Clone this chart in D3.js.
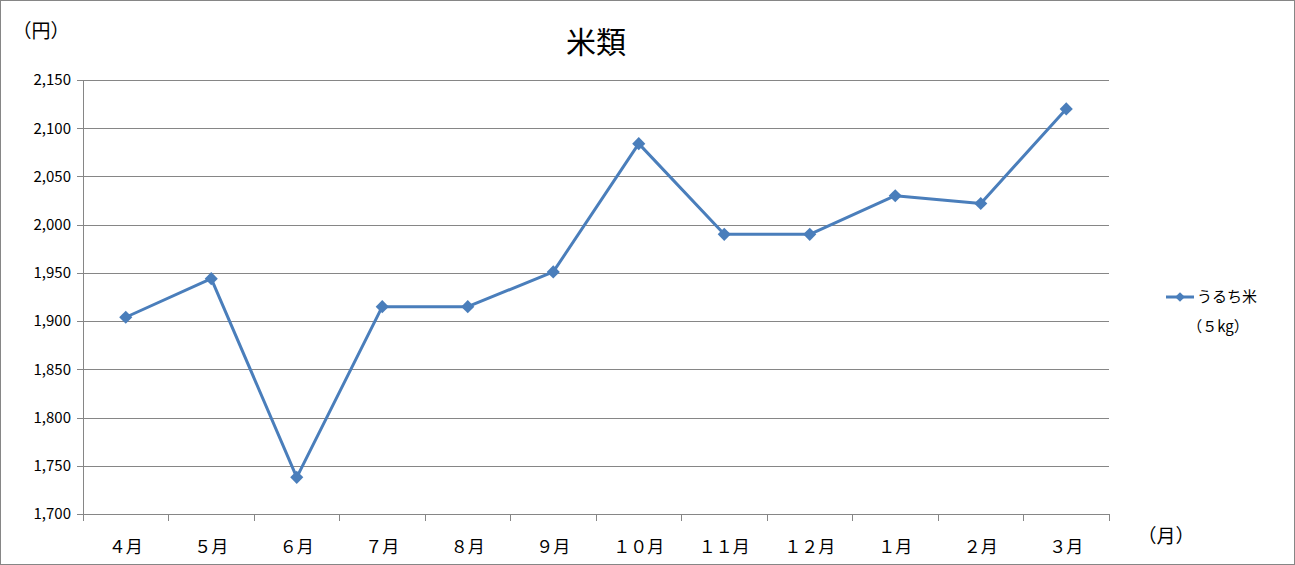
<!DOCTYPE html>
<html>
<head>
<meta charset="utf-8">
<script src="https://cdn.jsdelivr.net/npm/d3@7"></script>
<style>
  html, body { margin: 0; padding: 0; background: #fff; }
  svg { display: block; font-family: "Noto Sans CJK JP", "Noto Sans", sans-serif; }
</style>
</head>
<body>
<svg width="1295" height="565"></svg>
<script>
// month labels as printed on the chart (full-width digits)
let months = ["４月", "５月", "６月", "７月", "８月", "９月", "１０月", "１１月", "１２月", "１月", "２月", "３月"];
// うるち米 (5kg) price, yen
let prices = [1904, 1944, 1738, 1915, 1915, 1951, 2084, 1990, 1990, 2030, 2022, 2120];
let yTicks = [1700, 1750, 1800, 1850, 1900, 1950, 2000, 2050, 2100, 2150];
let seriesName = "うるち米";
let seriesUnit = "（５kg）";
let title = "米類";

var drawChart = function()
{
  let svg = d3.select("svg");
  let margin = { top: 80, left: 83, right: 186, bottom: 51 };
  let width = 1295, height = 565;
  let plotWidth = width - margin.left - margin.right;
  let plotHeight = height - margin.top - margin.bottom;
  let color = "#4a7ebb";

  // outer frame
  svg.append("rect")
    .attr("x", 0.5).attr("y", 0.5)
    .attr("width", width - 1).attr("height", height - 1)
    .attr("fill", "#fff").attr("stroke", "#868686");

  let x = d3.scaleBand().domain(months).range([0, plotWidth]);
  let y = d3.scaleLinear().domain([1700, 2150]).range([plotHeight, 0]);

  let plot = svg.append("g")
    .attr("transform", "translate(" + margin.left + "," + margin.top + ")");

  // horizontal gridlines (reaching slightly left of the axis like the original)
  let yAxis = d3.axisLeft(y)
    .tickValues(yTicks)
    .tickSize(-plotWidth - 6)
    .tickFormat(d3.format(","))
    .tickPadding(14);
  let yGroup = plot.append("g").attr("transform", "translate(-6,0)").call(yAxis);
  yGroup.select(".domain").remove();
  yGroup.selectAll(".tick line").attr("stroke", "#868686").attr("shape-rendering", "crispEdges");
  yGroup.selectAll(".tick text")
    .attr("x", -6)
    .attr("font-size", 15).attr("fill", "#000")
    .attr("font-family", "'Noto Sans CJK JP', sans-serif");

  // vertical axis line
  plot.append("line")
    .attr("x1", 0).attr("x2", 0).attr("y1", 0).attr("y2", plotHeight)
    .attr("stroke", "#868686").attr("shape-rendering", "crispEdges");

  // x-axis: ticks at band boundaries
  let xGroup = plot.append("g").attr("transform", "translate(0," + plotHeight + ")");
  xGroup.append("line")
    .attr("x1", 0).attr("x2", plotWidth)
    .attr("stroke", "#868686").attr("shape-rendering", "crispEdges");
  let bounds = months.map(m => x(m)).concat([plotWidth]);
  xGroup.selectAll("line.tk").data(bounds).join("line")
    .attr("class", "tk")
    .attr("x1", d => d).attr("x2", d => d)
    .attr("y1", 0).attr("y2", 7)
    .attr("stroke", "#868686").attr("shape-rendering", "crispEdges");
  xGroup.selectAll("text").data(months).join("text")
    .attr("x", d => x(d) + x.bandwidth() / 2)
    .attr("y", 39)
    .attr("text-anchor", "middle")
    .attr("font-size", 17)
    .text(d => d);

  // the series
  let line = d3.line()
    .x((d, i) => x(months[i]) + x.bandwidth() / 2)
    .y(d => y(d));
  plot.append("path")
    .datum(prices)
    .attr("d", line)
    .attr("fill", "none")
    .attr("stroke", color)
    .attr("stroke-width", 3)
    .attr("stroke-linejoin", "round");
  let diamond = d3.symbol().type(d3.symbolDiamond2).size(110);
  plot.selectAll("path.pt").data(prices).join("path")
    .attr("class", "pt")
    .attr("d", diamond)
    .attr("transform", (d, i) => "translate(" + (x(months[i]) + x.bandwidth() / 2) + "," + y(d) + ")")
    .attr("fill", color);

  // title and axis units
  svg.append("text")
    .attr("x", 596).attr("y", 53)
    .attr("text-anchor", "middle")
    .attr("font-size", 30)
    .text(title);
  svg.append("text")
    .attr("x", 41).attr("y", 38)
    .attr("text-anchor", "middle")
    .attr("font-size", 19)
    .text("（円）");
  svg.append("text")
    .attr("x", 1166).attr("y", 543)
    .attr("text-anchor", "middle")
    .attr("font-size", 19)
    .text("（月）");

  // legend
  let legend = svg.append("g").attr("transform", "translate(1166,297)");
  legend.append("line")
    .attr("x1", 0).attr("x2", 28)
    .attr("stroke", color).attr("stroke-width", 3);
  legend.append("path")
    .attr("d", d3.symbol().type(d3.symbolDiamond2).size(60))
    .attr("transform", "translate(14,0)")
    .attr("fill", color);
  legend.append("text")
    .attr("x", 31).attr("y", 5)
    .attr("font-size", 15)
    .text(seriesName);
  legend.append("text")
    .attr("x", 52).attr("y", 35)
    .attr("text-anchor", "middle")
    .attr("font-size", 15)
    .text(seriesUnit);
}

drawChart();
</script>
</body>
</html>
